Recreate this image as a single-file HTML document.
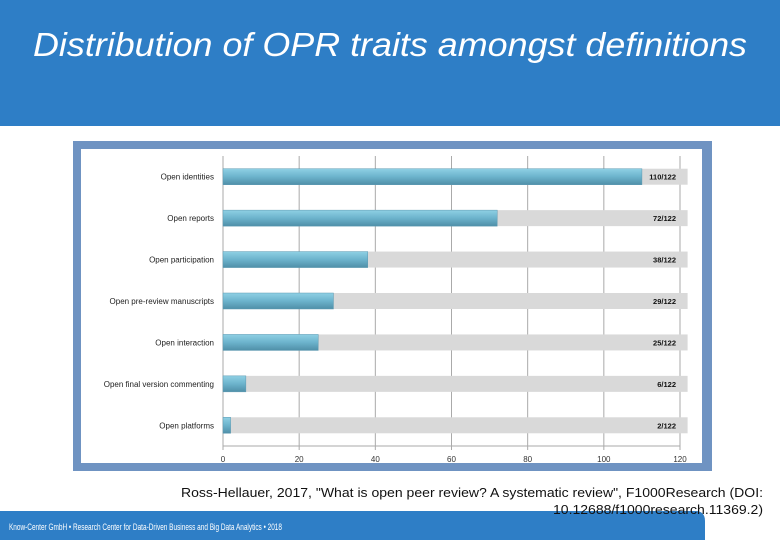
<!DOCTYPE html>
<html><head><meta charset="utf-8"><style>
html,body{margin:0;padding:0;background:#fff;}
svg{display:block;font-family:"Liberation Sans",sans-serif;}
</style></head><body>
<svg id="s" width="780" height="540" viewBox="0 0 780 540">
<defs>
<linearGradient id="bg" x1="0" y1="0" x2="0" y2="1">
<stop offset="0" stop-color="#8fd0e4"/><stop offset="0.5" stop-color="#6cb3cc"/><stop offset="1" stop-color="#4f8fa8"/>
</linearGradient>
</defs>
<rect x="0" y="0" width="780" height="126" fill="#2e7ec6"/>
<text x="33" y="56" font-size="33" font-style="italic" fill="#fff" textLength="714" lengthAdjust="spacingAndGlyphs">Distribution of OPR traits amongst definitions</text>
<rect x="73" y="141" width="639" height="330" fill="#6f93c2"/>
<rect x="81" y="149" width="621" height="314" fill="#fff"/>
<g id="chart"></g>
<text x="181" y="497" font-size="13" fill="#111" textLength="582" lengthAdjust="spacingAndGlyphs">Ross-Hellauer, 2017, "What is open peer review? A systematic review", F1000Research (DOI:</text>
<path d="M0 511 H695 Q705 511 705 521 V540 H0 Z" fill="#2e7ec6"/>
<text x="553" y="514" font-size="13" fill="#111" textLength="210" lengthAdjust="spacingAndGlyphs">10.12688/f1000research.11369.2)</text>
<text x="9" y="530" font-size="9" fill="#fff" textLength="273" lengthAdjust="spacingAndGlyphs">Know-Center GmbH • Research Center for Data-Driven Business and Big Data Analytics • 2018</text>
</svg>
<script>
const categories=["Open identities","Open reports","Open participation","Open pre-review manuscripts","Open interaction","Open final version commenting","Open platforms"];
const values=[110,72,38,29,25,6,2];
const total=[122];
const ticks=[0,20,40,60,80,100,120];
const NS="http://www.w3.org/2000/svg";
const g=document.getElementById('chart');
const x0=223,x1=680,xmax=120;
const xs=v=>x0+(x1-x0)*v/xmax;
const yTop=156,yBot=446,n=categories.length,band=(yBot-yTop)/n;
const yc=i=>yTop+band*(i+0.5);
function mk(t,a){const e=document.createElementNS(NS,t);for(const k in a)e.setAttribute(k,a[k]);g.appendChild(e);return e;}
ticks.forEach((t,i)=>{
 const l=mk('line',{x1:xs(t),x2:xs(t),y1:yTop,y2:yBot+4,stroke:'#aaa','stroke-width':1});
 
 
 const tx=mk('text',{x:xs(t),y:yBot+16,'font-size':8,'text-anchor':'middle',fill:'#333'});
 tx.textContent=t;
 
 
});
const ax=mk('line',{x1:x0,x2:x1,y1:yBot,y2:yBot,stroke:'#aaa','stroke-width':1});


categories.forEach((c,i)=>{
 const y=yc(i);
 const bgb=mk('rect',{x:x0,y:y-8,width:xs(total[0])-x0,height:16,fill:'#d9d9d9'});
 
 
 const b=mk('rect',{x:x0,y:y-8,width:xs(values[i])-x0,height:16,fill:'url(#bg)',stroke:'#5d9ab2','stroke-width':0.5});
 
 
 const lb=mk('text',{x:214,y:y+3,'font-size':8,'text-anchor':'end',fill:'#222'});
 lb.textContent=c;
 
 
 const vl=mk('text',{x:676,y:y+3,'font-size':7.5,'font-weight':'bold','text-anchor':'end',fill:'#111'});
 vl.textContent=values[i]+'/'+total[0];
 
 
});
</script>
</body></html>
